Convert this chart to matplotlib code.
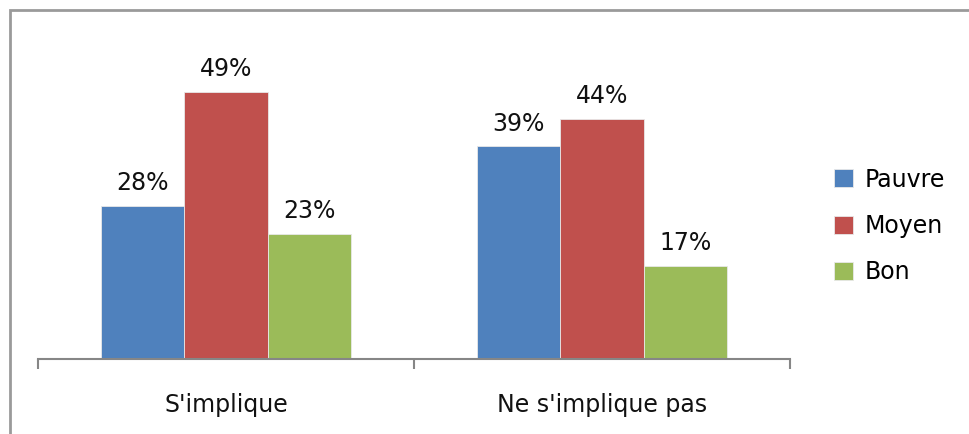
import matplotlib.pyplot as plt
import matplotlib.patches as patches
import numpy as np

categories = ["S'implique", "Ne s'implique pas"]
series = ["Pauvre", "Moyen", "Bon"]
values = {
    "Pauvre": [28, 39],
    "Moyen": [49, 44],
    "Bon": [23, 17],
}
colors = ["#4F81BD", "#C0504D", "#9BBB59"]

plt.rcParams['font.family'] = ['DejaVu Sans']

W, H = 970, 434
fig = plt.figure(figsize=(W / 100, H / 100), dpi=100)
ax = fig.add_axes([38 / W, 75 / H, (790 - 38) / W, (359 - 32) / H])

# Grouped bars
x = np.arange(len(categories))
bar_w = 0.221
for i, (name, col) in enumerate(zip(series, colors)):
    pos = x + (i - 1) * bar_w
    bars = ax.bar(pos, values[name], width=bar_w, color=col, label=name,
                  edgecolor='#e8e8e8', linewidth=0.6)
    for b, v in zip(bars, values[name]):
        ax.text(b.get_x() + b.get_width() / 2, v + 2.0, f"{v}%",
                ha='center', va='bottom', fontsize=17, color='#111111')

ax.set_xlim(-0.5, 1.5)
ax.set_ylim(0, 60)

# Only the category axis is shown
for s in ['top', 'right', 'left']:
    ax.spines[s].set_visible(False)
ax.spines['bottom'].set_color('#868686')
ax.spines['bottom'].set_linewidth(1.5)
ax.set_yticks([])
ax.set_xticks([-0.5, 0.5, 1.5], minor=False)
ax.set_xticklabels([])
ax.tick_params(axis='x', length=7, width=1.5, color='#868686', direction='out')
for xi, lab in zip(x, categories):
    ax.text(xi, -8.4, lab, ha='center', va='center', fontsize=17, color='#111111')

leg = fig.legend(loc='center left', frameon=False, fontsize=17,
                 handlelength=0.8, handleheight=0.8, handletextpad=0.5,
                 labelspacing=0.95, borderpad=0, borderaxespad=0)
leg.set_bbox_to_anchor((834 / W, 1 - 226 / H), transform=fig.transFigure)

# Outer chart frame
fig.patches.append(patches.Rectangle((10 / W, -0.05), 1.0, 1 - 10 / H + 0.05,
                                     transform=fig.transFigure, fill=False,
                                     edgecolor='#9a9a9a', linewidth=2))

fig.savefig('out.png', dpi=100)
